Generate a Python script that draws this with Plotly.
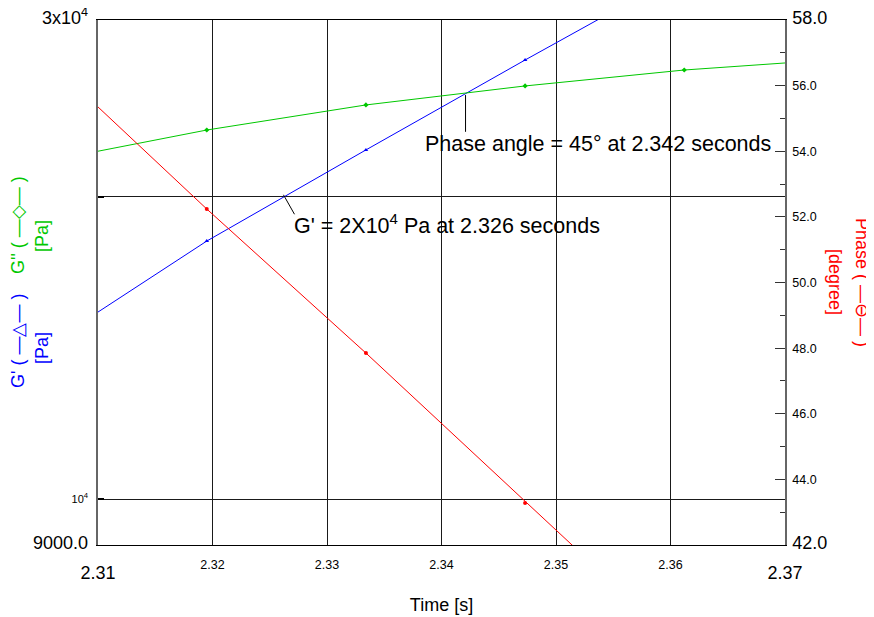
import math
import plotly.graph_objects as go

# ---- data ----
time_s = [2.3056, 2.3195, 2.3334, 2.3473, 2.3612, 2.3751]
g_prime_pa = [14240, 18070, 22270, 27370, 33500, 40800]
g_double_prime_pa = [21710, 23310, 24690, 25790, 26750, 27440]
phase_deg = [56.79, 52.24, 47.85, 43.28, 38.77, 34.30]

x_ticks = [2.31, 2.32, 2.33, 2.34, 2.35, 2.36, 2.37]
x_tick_labels = ["2.31", "2.32", "2.33", "2.34", "2.35", "2.36", "2.37"]
g_ticks = [9000, 10000, 20000, 30000]
g_tick_labels = ["9000.0", "10<sup>4</sup>", "", "3x10<sup>4</sup>"]
phase_ticks = [42, 44, 46, 48, 50, 52, 54, 56, 58]
phase_tick_labels = ["42.0", "44.0", "46.0", "48.0", "50.0", "52.0", "54.0", "56.0", "58.0"]

crossover_time = 2.3421
g_prime_2e4_time = 2.3262

FONT = "Liberation Sans, Arial, sans-serif"
BLUE = "#0000ff"
GREEN = "#00c800"
RED = "#ff0000"

# page body has an 8px default margin; the figure is sized so the plot area
# lands where the reference has it in the 874x617 window
PAGE_OFF = 8
PLOT_L, PLOT_R, PLOT_T, PLOT_B = 98, 785, 20, 545
PW, PH = PLOT_R - PLOT_L, PLOT_B - PLOT_T


def styled(labels, big, small):
    out = []
    n = len(labels)
    for i, t in enumerate(labels):
        size = big if i in (0, n - 1) else small
        out.append(f'<span style="font-size:{size}px">{t}</span>')
    return out


fig = go.Figure()
fig.add_trace(go.Scatter(
    x=time_s, y=g_prime_pa, mode="lines+markers", name="G'",
    line=dict(color=BLUE, width=1),
    marker=dict(symbol="triangle-up", size=4, color=BLUE),
))
fig.add_trace(go.Scatter(
    x=time_s, y=g_double_prime_pa, mode="lines+markers", name="G''",
    line=dict(color=GREEN, width=1),
    marker=dict(symbol="diamond", size=4, color=GREEN),
))
fig.add_trace(go.Scatter(
    x=time_s, y=phase_deg, mode="lines+markers", name="Phase", yaxis="y2",
    line=dict(color=RED, width=1),
    marker=dict(symbol="circle", size=4, color=RED),
))
# invisible helper trace so the end-label axis is drawn
fig.add_trace(go.Scatter(x=[x_ticks[0], x_ticks[-1]], y=[g_ticks[1], g_ticks[1]], xaxis="x2",
                         mode="markers", marker=dict(opacity=0), hoverinfo="skip"))

inner_x_ticks = x_ticks[1:-1]
inner_x_labels = x_tick_labels[1:-1]
end_x_ticks = [x_ticks[0], x_ticks[-1]]
end_x_labels = [x_tick_labels[0], x_tick_labels[-1]]

eps = 1e-6
log_range = [math.log10(g_ticks[0]) - eps, math.log10(g_ticks[-1]) + eps]

W, H = 874 - PAGE_OFF, 617 - PAGE_OFF
fig.update_layout(
    width=W, height=H,
    margin=dict(l=PLOT_L - PAGE_OFF, r=W - (PLOT_R - PAGE_OFF), t=PLOT_T - PAGE_OFF,
                b=H - (PLOT_B - PAGE_OFF), autoexpand=False),
    paper_bgcolor="white", plot_bgcolor="white",
    showlegend=False,
    font=dict(family=FONT, color="black"),
    xaxis=dict(
        range=[2.31, 2.37], tickvals=inner_x_ticks, ticktext=inner_x_labels,
        tickfont=dict(size=12.5, family=FONT, color="black"),
        showgrid=True, gridcolor="#1a1a1a", gridwidth=1,
        showline=True, linecolor="black", linewidth=1, mirror=True,
        ticks="", zeroline=False, automargin=False, ticklabelstandoff=8,
        title=dict(text="Time [s]", font=dict(size=18, family=FONT), standoff=27),
    ),
    xaxis2=dict(
        overlaying="x", anchor="y", side="bottom", range=[2.31, 2.37],
        tickvals=end_x_ticks, ticktext=end_x_labels,
        tickfont=dict(size=18, family=FONT, color="black"),
        showgrid=False, showline=False, ticks="", zeroline=False,
        automargin=False, ticklabelstandoff=15,
    ),
    yaxis=dict(
        type="log", range=log_range,
        tickvals=g_ticks, ticktext=styled(g_tick_labels, 18, 11),
        tickfont=dict(size=11, family=FONT, color="black"),
        showgrid=True, gridcolor="#1a1a1a", gridwidth=1,
        showline=True, linecolor="#666666", linewidth=1.5,
        ticks="inside", ticklen=6, tickwidth=2, tickcolor="black",
        ticklabelstandoff=6, zeroline=False, automargin=False,
        ticklabeloverflow="allow",
    ),
    yaxis2=dict(
        overlaying="y", side="right", range=[42, 58],
        tickvals=phase_ticks, ticktext=styled(phase_tick_labels, 18, 12.5),
        tickfont=dict(size=12.5, family=FONT, color="black"),
        showgrid=False, showline=True, linecolor="#666666", linewidth=1.5,
        ticks="inside", ticklen=10, tickcolor="#333333", tickwidth=1,
        minor=dict(ticks="inside", ticklen=5, dtick=1, tickcolor="#333333", showgrid=False),
        ticklabelstandoff=3, zeroline=False, automargin=False,
        ticklabeloverflow="allow",
    ),
)

# Leader lines for the callouts
fig.add_shape(type="line", xref="x", yref="paper",
              x0=crossover_time, x1=crossover_time, y0=0.857, y1=0.787,
              line=dict(color="black", width=1))
fig.add_shape(type="line", xref="x", yref="paper",
              x0=g_prime_2e4_time, x1=g_prime_2e4_time + 0.00096, y0=0.667, y1=0.630,
              line=dict(color="black", width=1))


def px2paper(px, py):
    return (px - PLOT_L) / PW, (PLOT_B - py) / PH


def note(text, px, py, size, color="black", angle=0, xanchor="left"):
    x, y = px2paper(px, py)
    fig.add_annotation(text=text, xref="paper", yref="paper", x=x, y=y,
                       xanchor=xanchor, yanchor="middle", textangle=angle,
                       showarrow=False, font=dict(size=size, family=FONT, color=color),
                       borderpad=0)


note("Phase angle = 45° at 2.342 seconds", 424, 143.6, 21.5)
note("G' = 2X10<sup>4</sup> Pa at 2.326 seconds", 293, 224, 21.5)

# Axis titles (coloured, rotated)
note("G'' ( —◇— )", 18, 225, 18, GREEN, -90, "center")
note("[Pa]", 42, 236, 18, GREEN, -90, "center")
note("G' ( —△— )", 18, 341, 18, BLUE, -90, "center")
note("[Pa]", 42, 348, 18, BLUE, -90, "center")
note("Phase ( —⊖— )", 862, 282, 18, RED, 90, "center")
note("[degree]", 835, 282, 18, RED, 90, "center")

fig.write_html("out.html")
